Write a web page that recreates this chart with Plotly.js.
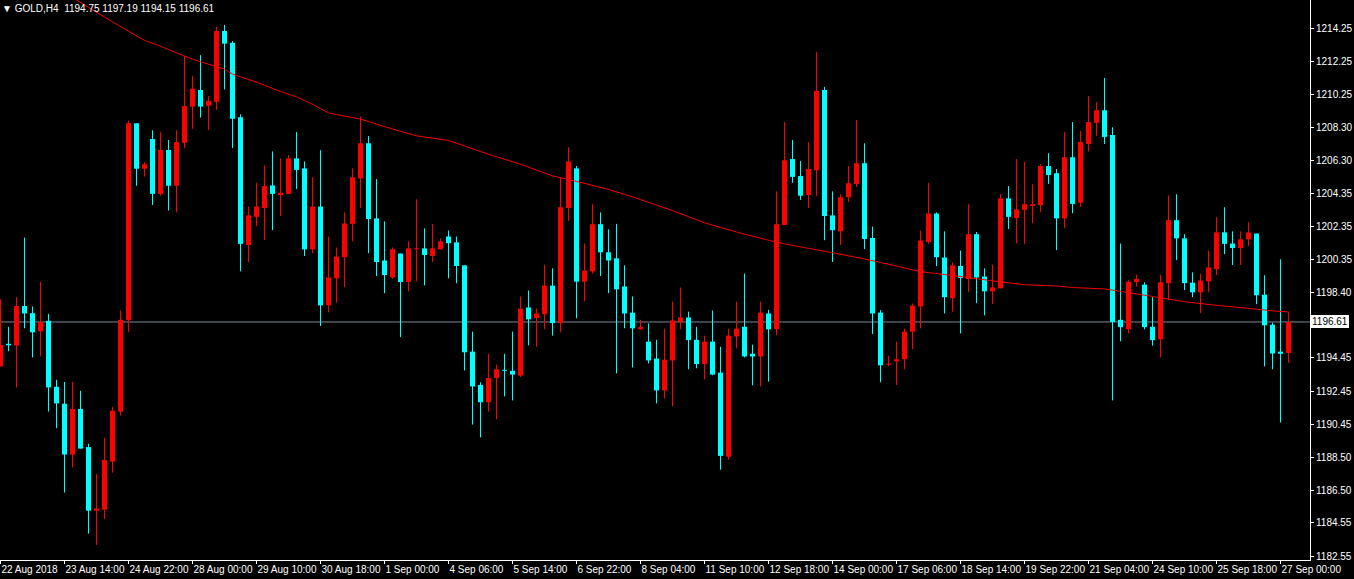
<!DOCTYPE html>
<html>
<head>
<meta charset="utf-8">
<script src="https://cdn.plot.ly/plotly-3.0.1.min.js"></script>
<style>html,body{margin:0;padding:0;background:#000;}#chart{width:1354px;height:579px;}</style>
</head>
<body>
<div id="chart"></div>
<script>
const symbol = "GOLD,H4";

const openP = [1193.94,1195.30,1195.19,1197.57,1197.14,1196.05,1196.68,1192.72,1191.70,1188.65,
1191.39,1189.10,1185.28,1185.34,1188.23,1191.23,1196.72,1208.54,1205.81,1207.59,
1204.30,1206.94,1204.79,1207.37,1209.54,1210.54,1209.59,1209.83,1214.08,1213.37,
1208.90,1201.23,1202.92,1203.45,1204.81,1204.23,1204.30,1206.43,1205.83,1200.97,
1203.54,1197.61,1199.23,1200.50,1202.50,1205.23,1207.34,1202.83,1200.30,1199.28,
1200.72,1199.01,1200.97,1201.03,1200.57,1200.97,1201.74,1201.39,1200.01,1194.83,
1192.83,1191.79,1193.25,1193.74,1193.68,1193.39,1197.48,1196.85,1197.08,1198.79,
1196.54,1203.45,1205.83,1199.03,1199.65,1202.48,1200.79,1200.43,1198.74,1197.17,
1196.17,1195.43,1194.41,1192.50,1194.30,1196.59,1196.88,1195.54,1194.08,1195.43,
1193.57,1188.52,1195.74,1196.32,1194.70,1194.54,1197.12,1196.17,1202.43,1206.39,
1205.37,1204.23,1205.72,1210.54,1203.01,1202.05,1204.10,1204.90,1206.14,1201.65,
1197.17,1194.05,1194.25,1194.37,1196.03,1197.54,1201.41,1203.12,1200.48,1198.03,
1199.97,1199.19,1201.88,1199.34,1198.45,1198.63,1204.03,1202.85,1203.34,1203.57,
1203.63,1205.97,1205.54,1202.83,1206.50,1203.77,1207.30,1208.57,1209.32,1207.83,
1196.74,1196.17,1199.01,1198.85,1196.32,1195.57,1198.94,1202.72,1201.63,1198.97,
1198.39,1199.05,1199.79,1201.99,1201.32,1201.05,1201.57,1201.92,1198.25,1196.45,
1194.83,1194.75];

const highP = [1197.97,1196.32,1198.10,1201.68,1197.54,1199.01,1197.10,1193.14,1193.01,1193.01,
1192.48,1189.30,1187.48,1189.65,1191.52,1197.30,1208.70,1208.54,1206.21,1208.12,
1208.01,1207.54,1208.12,1212.57,1211.37,1212.63,1210.17,1214.32,1214.45,1213.48,
1209.08,1203.54,1204.97,1206.01,1206.85,1206.43,1206.63,1208.01,1206.25,1205.30,
1206.92,1201.74,1201.08,1203.19,1205.83,1208.94,1207.77,1205.19,1202.65,1201.08,
1200.72,1201.45,1203.97,1202.23,1202.48,1201.63,1202.10,1201.74,1200.01,1196.03,
1192.99,1194.70,1194.05,1194.70,1196.03,1198.14,1198.50,1197.41,1200.05,1199.83,
1205.32,1207.10,1205.97,1201.32,1203.68,1203.19,1202.17,1202.50,1200.01,1198.14,
1196.74,1196.52,1195.54,1196.21,1197.83,1198.68,1197.23,1196.32,1195.79,1197.30,
1195.12,1196.21,1197.83,1199.52,1195.25,1197.83,1197.34,1204.45,1208.61,1207.54,
1206.28,1207.41,1212.81,1210.72,1204.45,1204.28,1205.97,1208.74,1207.34,1202.34,
1197.32,1194.59,1195.43,1196.21,1197.72,1202.10,1204.97,1203.19,1202.05,1200.19,
1200.90,1203.68,1202.01,1199.83,1200.05,1204.28,1204.77,1206.39,1206.21,1204.88,
1206.08,1206.74,1205.79,1208.01,1208.61,1208.08,1210.17,1209.81,1211.25,1208.30,
1201.32,1199.12,1199.45,1198.99,1198.10,1199.45,1204.21,1204.28,1201.88,1199.59,
1199.52,1200.90,1202.90,1203.50,1202.05,1202.05,1202.59,1201.92,1199.41,1196.57,
1200.37,1197.19];

const lowP = [1193.94,1194.85,1192.68,1196.23,1194.48,1194.54,1191.23,1190.23,1186.37,1187.88,
1189.01,1183.90,1183.23,1184.79,1187.57,1190.99,1196.01,1204.79,1205.34,1203.63,
1204.19,1203.30,1203.19,1207.05,1208.21,1208.88,1208.14,1209.34,1210.57,1207.05,
1199.65,1200.21,1202.37,1201.52,1202.12,1202.97,1204.30,1204.59,1200.57,1200.74,
1196.37,1197.19,1197.77,1198.70,1201.45,1203.45,1200.74,1199.37,1198.34,1199.19,
1195.70,1198.45,1199.05,1198.81,1200.21,1200.97,1199.23,1198.94,1193.70,1190.45,
1189.68,1191.23,1190.77,1192.14,1191.90,1193.30,1195.21,1195.12,1196.17,1195.79,
1195.99,1202.68,1196.83,1197.85,1199.52,1199.37,1198.34,1193.52,1196.23,1193.88,
1196.17,1194.12,1191.72,1192.01,1191.54,1196.17,1193.77,1193.83,1193.17,1193.41,
1187.74,1188.34,1195.03,1194.48,1192.81,1192.74,1193.03,1195.81,1202.43,1204.97,
1203.94,1203.45,1204.17,1201.52,1200.21,1201.23,1203.81,1204.72,1200.99,1195.88,
1192.99,1193.94,1192.83,1193.77,1194.97,1196.23,1201.30,1199.97,1197.12,1197.23,
1195.92,1198.41,1197.74,1197.01,1197.68,1198.63,1202.19,1201.34,1201.30,1202.54,
1203.21,1204.90,1200.92,1202.25,1203.14,1203.52,1206.85,1207.79,1207.30,1191.90,
1195.45,1195.92,1198.74,1196.17,1195.19,1194.48,1197.92,1200.32,1198.52,1198.10,
1197.14,1198.39,1199.43,1200.68,1200.03,1200.03,1201.17,1197.68,1193.94,1193.77,
1190.57,1194.15];

const closeP = [1195.23,1195.21,1197.57,1197.12,1195.99,1196.61,1192.68,1191.72,1188.65,1191.39,
1189.01,1185.28,1185.41,1188.32,1191.28,1196.74,1208.54,1205.81,1206.08,1204.30,
1206.94,1204.79,1207.41,1209.57,1210.61,1209.54,1209.88,1214.08,1213.32,1208.81,
1201.30,1203.01,1203.54,1204.77,1204.30,1204.37,1206.43,1205.74,1200.97,1203.54,
1197.61,1199.28,1200.54,1202.52,1205.30,1207.34,1202.79,1200.21,1199.43,1200.97,
1199.01,1201.03,1201.01,1200.63,1201.03,1201.45,1201.34,1199.97,1194.79,1192.74,
1191.79,1193.25,1193.77,1193.68,1193.45,1197.41,1196.77,1197.12,1198.79,1196.54,
1203.50,1206.25,1199.03,1199.70,1202.48,1200.79,1200.30,1198.57,1197.12,1196.23,
1196.30,1194.30,1192.50,1194.34,1196.70,1196.88,1195.52,1194.08,1195.43,1193.45,
1188.57,1195.79,1196.21,1194.54,1194.54,1197.17,1196.17,1202.48,1206.32,1205.32,
1204.19,1205.79,1210.48,1202.97,1202.12,1204.10,1204.94,1206.14,1201.59,1197.12,
1194.01,1194.10,1194.37,1196.03,1197.59,1201.50,1203.12,1200.50,1198.10,1200.01,
1199.25,1201.88,1199.28,1198.45,1198.68,1204.03,1202.92,1203.37,1203.68,1203.68,
1205.97,1205.43,1202.83,1206.50,1203.70,1207.41,1208.61,1209.32,1207.72,1196.61,
1196.30,1199.03,1199.19,1196.30,1195.52,1198.99,1202.72,1201.63,1198.94,1198.39,
1199.10,1199.88,1201.99,1201.30,1201.05,1201.57,1201.99,1198.21,1196.41,1194.72,
1194.70,1196.61];

// moving average (read at selected bars)
const maIdx = [9,14,18,20,23,25,28,29,32,35,37,39,41,45,48,52,56,59,61,65,69,72,76,79,81,84,88,92,96,98,
100,104,108,112,115,117,120,124,128,132,134,138,140,144,148,152,156,159,161];
const maVal = [1216.08,1214.63,1213.52,1213.17,1212.57,1212.23,1211.79,1211.50,1211.01,1210.45,1210.12,1209.68,
1209.17,1208.79,1208.34,1207.79,1207.50,1207.01,1206.68,1206.08,1205.39,1205.05,1204.57,1204.12,1203.79,
1203.30,1202.57,1202.01,1201.52,1201.30,1201.12,1200.77,1200.39,1199.97,1199.63,1199.52,1199.34,1199.08,
1198.85,1198.77,1198.68,1198.59,1198.45,1198.14,1197.83,1197.61,1197.43,1197.28,1197.21];

const xTickIdx = [0,8,16,24,32,40,48,56,64,72,80,88,96,104,112,120,128,136,144,152,160];
const xTickLabels = ["22 Aug 2018","23 Aug 14:00","24 Aug 22:00","28 Aug 00:00","29 Aug 10:00","30 Aug 18:00",
"1 Sep 00:00","4 Sep 06:00","5 Sep 14:00","6 Sep 22:00","8 Sep 04:00","11 Sep 10:00","12 Sep 18:00",
"14 Sep 00:00","17 Sep 06:00","18 Sep 14:00","19 Sep 22:00","21 Sep 04:00","24 Sep 10:00","25 Sep 18:00","27 Sep 00:00"];
// the 1196.40 level is covered by the current-price box in the reference
const yTickLabels = ["1214.25","1212.25","1210.25","1208.30","1206.30","1204.35","1202.35","1200.35","1198.40",
"1194.45","1192.45","1190.45","1188.50","1186.50","1184.55","1182.55"];

const UP = '#ff0000', DOWN = '#00ffff';
const FONT = 'Liberation Sans, Arial, sans-serif';

const n = closeP.length;
const up = {x:[], base:[], y:[]}, dn = {x:[], base:[], y:[]};
const wUp = {x:[], y:[]}, wDn = {x:[], y:[]};
const minBody = 0.06;
for (let i = 0; i < n; i++) {
  const o = openP[i], c = closeP[i];
  const isUp = c >= o;
  const b = isUp ? up : dn, w = isUp ? wUp : wDn;
  const lo = Math.min(o, c), h = Math.max(Math.abs(c - o), minBody);
  b.x.push(i); b.base.push(lo); b.y.push(h);
  w.x.push(i, i, null); w.y.push(lowP[i], highP[i], null);
}

const traces = [
  {type:'scatter', mode:'lines', x:wUp.x, y:wUp.y, line:{color:UP, width:1}, hoverinfo:'skip', connectgaps:false},
  {type:'scatter', mode:'lines', x:wDn.x, y:wDn.y, line:{color:DOWN, width:1}, hoverinfo:'skip', connectgaps:false},
  {type:'bar', x:up.x, y:up.y, base:up.base, width:0.625, marker:{color:UP, line:{width:0}}, hoverinfo:'skip'},
  {type:'bar', x:dn.x, y:dn.y, base:dn.base, width:0.625, marker:{color:DOWN, line:{width:0}}, hoverinfo:'skip'},
  {type:'scatter', mode:'lines', x:maIdx, y:maVal, line:{color:'#ff0000', width:1, shape:'spline', smoothing:0.3}, hoverinfo:'skip'}
];

const last = n - 1;
const lastClose = closeP[last];
const header = '▼ ' + symbol + '  ' + [openP[last], highP[last], lowP[last], closeP[last]].map(v => v.toFixed(2)).join(' ');

const layout = {
  width:1354, height:579,
  paper_bgcolor:'#000000', plot_bgcolor:'#000000',
  margin:{l:0, r:44, t:0, b:19, pad:0},
  showlegend:false, hovermode:false, barmode:'overlay',
  font:{family:FONT, size:10, color:'#ffffff'},
  xaxis:{
    range:[-0.0625, 163.6875], showgrid:false, zeroline:false,
    showline:true, linecolor:'#ffffff', linewidth:1,
    tickmode:'array', tickvals:xTickIdx, ticktext:xTickLabels,
    ticks:'outside', ticklen:3, tickwidth:1, tickcolor:'#ffffff',
    ticklabelposition:'outside right', tickangle:0, automargin:false,
    tickfont:{family:FONT, size:10, color:'#ffffff'}
  },
  yaxis:{
    side:'right', range:[1182.32, 1215.94], showgrid:false, zeroline:false,
    showline:true, linecolor:'#ffffff', linewidth:1,
    tickmode:'array', tickvals:yTickLabels.map(Number), ticktext:yTickLabels,
    ticks:'outside', ticklen:3, tickwidth:1, tickcolor:'#ffffff', automargin:false,
    tickfont:{family:FONT, size:10, color:'#ffffff'}
  },
  shapes:[
    {type:'line', xref:'paper', x0:0, x1:1, yref:'y', y0:lastClose, y1:lastClose,
     line:{color:'#778899', width:1}, layer:'below'}
  ],
  annotations:[
    {xref:'paper', yref:'paper', x:0, y:1, xanchor:'left', yanchor:'top', xshift:0, yshift:-1,
     text:header, showarrow:false, font:{family:FONT, size:10, color:'#ffffff'}},
    {xref:'paper', yref:'y', x:1, y:lastClose, xanchor:'left', yanchor:'middle', xshift:1,
     text:lastClose.toFixed(2), showarrow:false, bgcolor:'#ffffff', borderpad:1, borderwidth:0,
     font:{family:FONT, size:10, color:'#000000'}}
  ]
};

Plotly.newPlot('chart', traces, layout, {displayModeBar:false, staticPlot:true});
</script>
</body>
</html>
